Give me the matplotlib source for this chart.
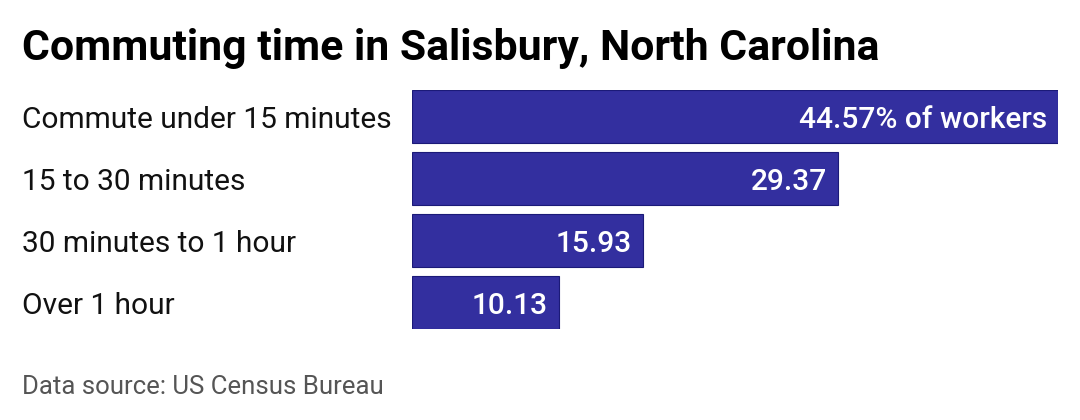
import matplotlib
matplotlib.use("Agg")
import matplotlib.pyplot as plt
import matplotlib.transforms as mtransforms

categories = ["Commute under 15 minutes", "15 to 30 minutes", "30 minutes to 1 hour", "Over 1 hour"]
shares = [44.57, 29.37, 15.93, 10.13]
value_labels = ["44.57% of workers", "29.37", "15.93", "10.13"]

plt.rcParams['font.family'] = ['Roboto', 'DejaVu Sans']

W, H = 1080, 420
fig = plt.figure(figsize=(W / 100, H / 100), dpi=100)
fig.patch.set_facecolor("white")

left, right = 412, 1058
top, bottom = 90, 329
ax = fig.add_axes([left / W, 1 - bottom / H, (right - left) / W, (bottom - top) / H])

bar_h = 53 / 62
ypos = list(range(len(categories)))
ax.barh(ypos, shares, height=bar_h, color="#332f9f", edgecolor="#1b1a78", linewidth=0.8)
ax.set_xlim(0, max(shares))
ax.set_ylim(len(categories) - 1 + bar_h / 2, -bar_h / 2)
ax.axis("off")

lab_tr = mtransforms.blended_transform_factory(fig.transFigure, ax.transData)
for y, cat in zip(ypos, categories):
    ax.text(22 / W, y, cat, transform=lab_tr, ha="left", va="center_baseline",
            fontsize=21.5, color="#111111")

val_tr = ax.transData + mtransforms.ScaledTranslation(-11 / 100, 0, fig.dpi_scale_trans)
for y, v, lab in zip(ypos, shares, value_labels):
    ax.text(v, y, lab, transform=val_tr, ha="right", va="center_baseline",
            fontsize=21.5, fontweight="medium", color="white")

fig.text(22 / W, 1 - 60 / H, "Commuting time in Salisbury, North Carolina",
         fontsize=30.8, fontweight="bold", color="black", ha="left", va="baseline")
fig.text(22 / W, 1 - 394 / H, "Data source: US Census Bureau",
         fontsize=18.5, color="#555555", ha="left", va="baseline")

fig.savefig("out.png", dpi=100, facecolor="white")
